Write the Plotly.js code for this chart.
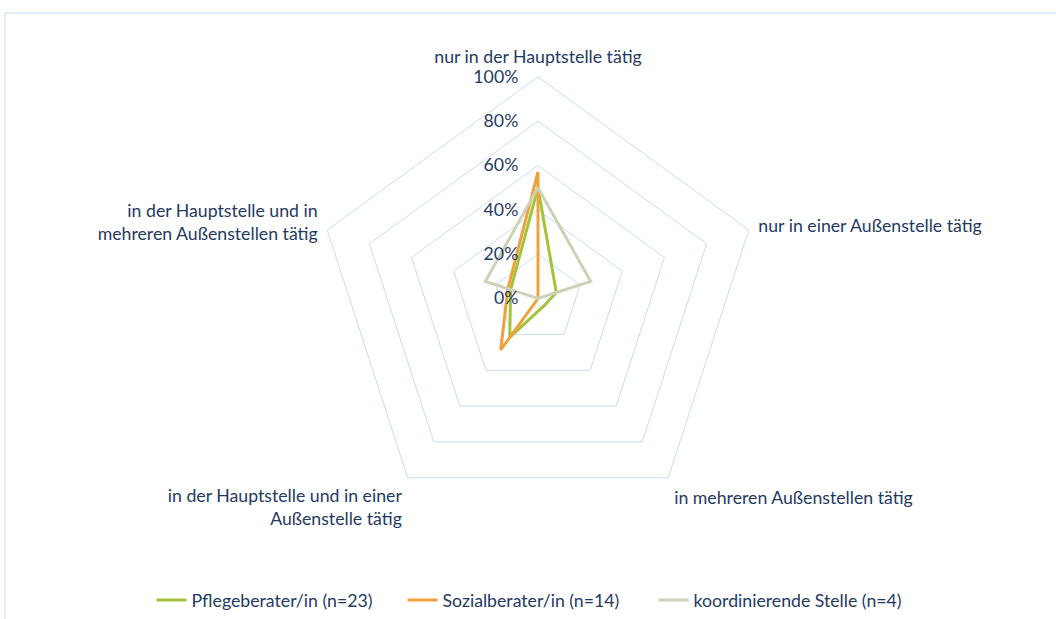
<!DOCTYPE html>
<html>
<head>
<meta charset="utf-8">
<script src="https://cdn.plot.ly/plotly-3.0.1.min.js"></script>
<style>html,body{margin:0;padding:0;background:#fff;}#chart{width:1056px;height:619px;}</style>
</head>
<body>
<div id="chart"></div>
<script>
// Categories (clockwise from top)
const categories = [
  "nur in der Hauptstelle tätig",
  "nur in einer Außenstelle tätig",
  "in mehreren Außenstellen tätig",
  "in der Hauptstelle und in einer Außenstelle tätig",
  "in der Hauptstelle und in mehreren Außenstellen tätig"
];
const categoryLabels = [
  "nur in der Hauptstelle tätig",
  "nur in einer Außenstelle tätig",
  "in mehreren Außenstellen tätig",
  "in der Hauptstelle und in einer<br>Außenstelle tätig",
  "in der Hauptstelle und in<br>mehreren Außenstellen tätig"
];
// Series values (percent)
const pflegeberater = [50, 8.7, 4.3, 21.7, 13.0];
const sozialberater = [57.1, 0, 0, 28.6, 14.3];
const koordinierend = [50, 25, 0, 0, 25];
const seriesNames = ["Pflegeberater/in (n=23)", "Sozialberater/in (n=14)", "koordinierende Stelle (n=4)"];
const radialTicks = [0, 20, 40, 60, 80, 100];

const colors = ["#A2C43C", "#EFA13C", "#CDD1B6"];
const FONT = "Lato, 'Open Sans', sans-serif";
const TXT = "#1F3A63";
const FS = 17.7;

function closed(a){ return a.concat([a[0]]); }
const seriesVals = [pflegeberater, sozialberater, koordinierend];
const traces = seriesVals.map((v, i) => ({
  type: "scatterpolar",
  mode: "lines",
  r: closed(v),
  theta: closed(categories),
  name: seriesNames[i],
  line: {color: colors[i], width: 3},
  hoverinfo: "skip"
}));

const layout = {
  width: 1056, height: 619,
  margin: {l: 0, r: 0, t: 0, b: 0},
  paper_bgcolor: "#ffffff",
  font: {family: FONT, size: FS, color: TXT},
  showlegend: true,
  legend: {
    orientation: "h", x: 0.5, xanchor: "center", y: 0.028, yanchor: "middle",
    font: {family: FONT, size: FS, color: TXT},
    itemwidth: 30, tracegroupgap: 0,
    entrywidth: 206, entrywidthmode: "pixels"
  },
  polar: {
    domain: {x: [316/1056, 760/1056], y: [(320-222)/619, (320+222)/619]},
    bgcolor: "rgba(0,0,0,0)",
    gridshape: "linear",
    radialaxis: {
      range: [0, 100], tickvals: radialTicks, ticktext: radialTicks.map(t => t + "%"),
      angle: 90, side: "counterclockwise", tickangle: 90,
      showline: false, ticks: "outside", ticklen: 13, tickcolor: "rgba(0,0,0,0)",
      gridcolor: "#C5DEF6", gridwidth: 1,
      tickfont: {family: FONT, size: FS, color: TXT}
    },
    angularaxis: {
      type: "category", categoryarray: categories,
      tickvals: categories, ticktext: categoryLabels,
      rotation: 90, direction: "clockwise",
      showgrid: false, showline: true, linecolor: "#C5DEF6", linewidth: 1,
      ticks: "outside", ticklen: 6, tickcolor: "rgba(0,0,0,0)",
      tickfont: {family: FONT, size: FS, color: TXT}
    }
  },
  shapes: [{
    type: "rect", xref: "paper", yref: "paper",
    x0: 5/1056, x1: 1.05, y0: -0.05, y1: (619-13)/619,
    line: {color: "#C9DDF2", width: 1}, fillcolor: "rgba(0,0,0,0)", layer: "below"
  }]
};

Plotly.newPlot("chart", traces, layout, {displayModeBar: false, staticPlot: true});
</script>
</body>
</html>
